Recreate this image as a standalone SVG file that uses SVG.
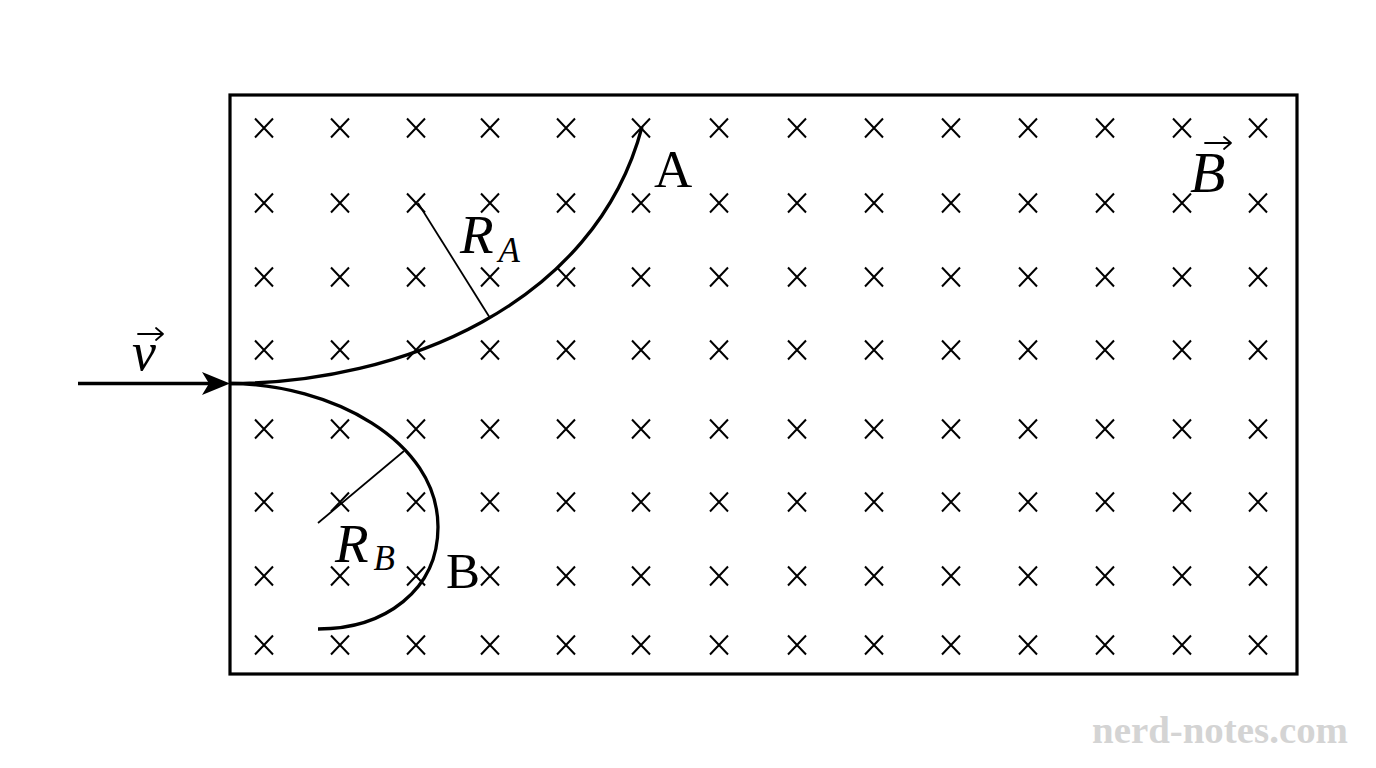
<svg xmlns="http://www.w3.org/2000/svg" xmlns:xlink="http://www.w3.org/1999/xlink" width="1376" height="768" viewBox="0 0 1376 768">
<style>
.frame{fill:none;stroke:#000;stroke-width:3.2}
.x{stroke:#000;stroke-width:2;fill:none}
.path{fill:none;stroke:#000;stroke-width:3.3}
.rad{fill:none;stroke:#000;stroke-width:1.8}
.lbl{font-family:"Liberation Serif","Times New Roman",serif;fill:#000}
.it{font-style:italic}
.vec{fill:none;stroke:#000;stroke-width:1.8;stroke-linecap:round;stroke-linejoin:round}
.wm{font-family:"Liberation Serif","DejaVu Serif",serif;font-weight:bold;fill:#d4d4d4}
</style>
<defs>
<path id="cr" class="x" d="M-9,-9.5 L9,9.5 M-9,9.5 L9,-9.5"/>
</defs>
<rect width="1376" height="768" fill="#fff"/>
<g id="field">
<rect class="frame" x="230" y="95" width="1067" height="579"/>
<g id="crosses">
<g transform="translate(0,128)"><use xlink:href="#cr" x="264"/><use xlink:href="#cr" x="340"/><use xlink:href="#cr" x="416"/><use xlink:href="#cr" x="490"/><use xlink:href="#cr" x="566"/><use xlink:href="#cr" x="641"/><use xlink:href="#cr" x="719"/><use xlink:href="#cr" x="797"/><use xlink:href="#cr" x="874"/><use xlink:href="#cr" x="951"/><use xlink:href="#cr" x="1028"/><use xlink:href="#cr" x="1105"/><use xlink:href="#cr" x="1182"/><use xlink:href="#cr" x="1258"/></g>
<g transform="translate(0,203)"><use xlink:href="#cr" x="264"/><use xlink:href="#cr" x="340"/><use xlink:href="#cr" x="416"/><use xlink:href="#cr" x="490"/><use xlink:href="#cr" x="566"/><use xlink:href="#cr" x="641"/><use xlink:href="#cr" x="719"/><use xlink:href="#cr" x="797"/><use xlink:href="#cr" x="874"/><use xlink:href="#cr" x="951"/><use xlink:href="#cr" x="1028"/><use xlink:href="#cr" x="1105"/><use xlink:href="#cr" x="1182"/><use xlink:href="#cr" x="1258"/></g>
<g transform="translate(0,277)"><use xlink:href="#cr" x="264"/><use xlink:href="#cr" x="340"/><use xlink:href="#cr" x="416"/><use xlink:href="#cr" x="490"/><use xlink:href="#cr" x="566"/><use xlink:href="#cr" x="641"/><use xlink:href="#cr" x="719"/><use xlink:href="#cr" x="797"/><use xlink:href="#cr" x="874"/><use xlink:href="#cr" x="951"/><use xlink:href="#cr" x="1028"/><use xlink:href="#cr" x="1105"/><use xlink:href="#cr" x="1182"/><use xlink:href="#cr" x="1258"/></g>
<g transform="translate(0,350)"><use xlink:href="#cr" x="264"/><use xlink:href="#cr" x="340"/><use xlink:href="#cr" x="416"/><use xlink:href="#cr" x="490"/><use xlink:href="#cr" x="566"/><use xlink:href="#cr" x="641"/><use xlink:href="#cr" x="719"/><use xlink:href="#cr" x="797"/><use xlink:href="#cr" x="874"/><use xlink:href="#cr" x="951"/><use xlink:href="#cr" x="1028"/><use xlink:href="#cr" x="1105"/><use xlink:href="#cr" x="1182"/><use xlink:href="#cr" x="1258"/></g>
<g transform="translate(0,429)"><use xlink:href="#cr" x="264"/><use xlink:href="#cr" x="340"/><use xlink:href="#cr" x="416"/><use xlink:href="#cr" x="490"/><use xlink:href="#cr" x="566"/><use xlink:href="#cr" x="641"/><use xlink:href="#cr" x="719"/><use xlink:href="#cr" x="797"/><use xlink:href="#cr" x="874"/><use xlink:href="#cr" x="951"/><use xlink:href="#cr" x="1028"/><use xlink:href="#cr" x="1105"/><use xlink:href="#cr" x="1182"/><use xlink:href="#cr" x="1258"/></g>
<g transform="translate(0,502)"><use xlink:href="#cr" x="264"/><use xlink:href="#cr" x="340"/><use xlink:href="#cr" x="416"/><use xlink:href="#cr" x="490"/><use xlink:href="#cr" x="566"/><use xlink:href="#cr" x="641"/><use xlink:href="#cr" x="719"/><use xlink:href="#cr" x="797"/><use xlink:href="#cr" x="874"/><use xlink:href="#cr" x="951"/><use xlink:href="#cr" x="1028"/><use xlink:href="#cr" x="1105"/><use xlink:href="#cr" x="1182"/><use xlink:href="#cr" x="1258"/></g>
<g transform="translate(0,576)"><use xlink:href="#cr" x="264"/><use xlink:href="#cr" x="340"/><use xlink:href="#cr" x="416"/><use xlink:href="#cr" x="490"/><use xlink:href="#cr" x="566"/><use xlink:href="#cr" x="641"/><use xlink:href="#cr" x="719"/><use xlink:href="#cr" x="797"/><use xlink:href="#cr" x="874"/><use xlink:href="#cr" x="951"/><use xlink:href="#cr" x="1028"/><use xlink:href="#cr" x="1105"/><use xlink:href="#cr" x="1182"/><use xlink:href="#cr" x="1258"/></g>
<g transform="translate(0,645)"><use xlink:href="#cr" x="264"/><use xlink:href="#cr" x="340"/><use xlink:href="#cr" x="416"/><use xlink:href="#cr" x="490"/><use xlink:href="#cr" x="566"/><use xlink:href="#cr" x="641"/><use xlink:href="#cr" x="719"/><use xlink:href="#cr" x="797"/><use xlink:href="#cr" x="874"/><use xlink:href="#cr" x="951"/><use xlink:href="#cr" x="1028"/><use xlink:href="#cr" x="1105"/><use xlink:href="#cr" x="1182"/><use xlink:href="#cr" x="1258"/></g>
</g>
<g id="fieldlabel">
<text class="lbl it" x="1190" y="192" font-size="58">B</text>
<path class="vec" d="M1205,143 H1230 M1224,137 L1231,143 L1224,149"/>
</g>
</g>
<g id="connectors">
<line class="path" x1="78" y1="383.5" x2="212" y2="383.5"/>
<path d="M230,383.5 L202,372 L209,383.5 L202,395 Z" fill="#000"/>
<path id="pathA" class="path" d="M230,383.5 C400,383.5 595,305 642,127"/>
<path id="pathB" class="path" d="M230,383.5 C330,384 438,440 438,527 C438,590 385,629 318,629"/>
<line class="rad" x1="418" y1="203" x2="490" y2="318"/>
<line class="rad" x1="318" y1="523" x2="404" y2="451"/>
</g>
<g id="velocity">
<text class="lbl it" x="132" y="370" font-size="54">v</text>
<path class="vec" d="M138,334 H162 M156,328 L163,334 L156,340"/>
</g>
<g id="labelA"><text class="lbl" x="654" y="187" font-size="53">A</text></g>
<g id="labelB"><text class="lbl" x="446" y="588" font-size="51">B</text></g>
<g id="labelRA"><text class="lbl it" x="460" y="253" font-size="55">R<tspan font-size="35" dx="5" dy="9">A</tspan></text></g>
<g id="labelRB"><text class="lbl it" x="335" y="562" font-size="55">R<tspan font-size="35" dx="5" dy="8">B</tspan></text></g>
<text class="wm" x="1092" y="743" font-size="38" textLength="256" lengthAdjust="spacingAndGlyphs">nerd-notes.com</text>
</svg>
